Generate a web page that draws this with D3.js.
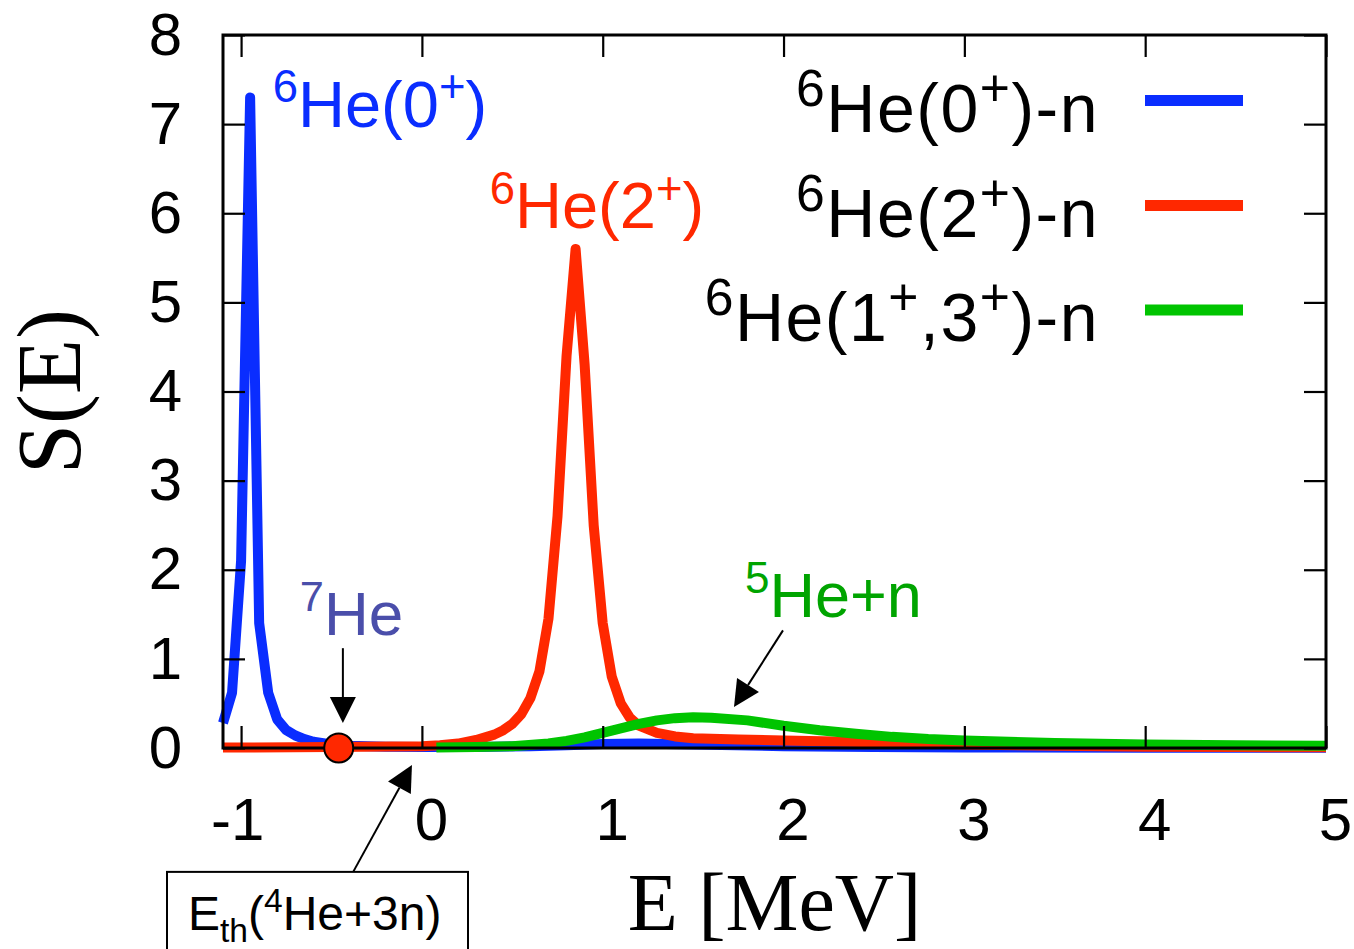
<!DOCTYPE html>
<html>
<head>
<meta charset="utf-8">
<script src="https://cdn.jsdelivr.net/npm/d3@7"></script>
<style>
  html, body { margin: 0; padding: 0; background: #fff; }
  svg { display: block; }
  text { font-family: "Liberation Sans", Arial, Helvetica, sans-serif; }
  .serif { font-family: "Liberation Serif", "Times New Roman", serif; }
</style>
</head>
<body>
<svg id="chart" width="1354" height="949"></svg>
<script>
// Strength function S(E) of 7He decomposed into 6He-core + n channels
const energies0 = [-1.1, -1.05, -1.0, -0.95, -0.9, -0.85, -0.8, -0.75, -0.7, -0.65, -0.6, -0.5, -0.4, -0.2, 0.0, 0.3, 0.6, 0.8, 1.0, 1.2, 1.5, 2.0, 2.5, 3.0, 4.0, 5.0];
const strength0 = [0.28, 0.62, 2.1, 7.3, 1.4, 0.62, 0.32, 0.2, 0.14, 0.1, 0.07, 0.04, 0.025, 0.015, 0.01, 0.01, 0.02, 0.03, 0.045, 0.05, 0.04, 0.02, 0.01, 0.005, 0.003, 0.002];

const energies2 = [-1.1, -0.5, 0.0, 0.1, 0.2, 0.3, 0.4, 0.45, 0.5, 0.55, 0.6, 0.65, 0.7, 0.75, 0.8, 0.85, 0.9, 0.95, 1.0, 1.05, 1.1, 1.15, 1.2, 1.3, 1.4, 1.5, 1.75, 2.0, 2.5, 3.0, 3.5, 4.0, 4.5, 5.0];
const strength2 = [0.005, 0.01, 0.02, 0.03, 0.05, 0.09, 0.15, 0.2, 0.27, 0.38, 0.56, 0.86, 1.45, 2.6, 4.4, 5.6, 4.3, 2.5, 1.4, 0.8, 0.5, 0.34, 0.25, 0.17, 0.13, 0.11, 0.095, 0.085, 0.065, 0.04, 0.025, 0.015, 0.01, 0.008];

const energies13 = [0.08, 0.3, 0.5, 0.7, 0.8, 0.9, 1.0, 1.1, 1.2, 1.3, 1.4, 1.5, 1.6, 1.8, 2.0, 2.2, 2.4, 2.6, 2.8, 3.0, 3.5, 4.0, 4.5, 5.0];
const strength13 = [0.005, 0.01, 0.02, 0.05, 0.08, 0.12, 0.17, 0.22, 0.27, 0.31, 0.335, 0.345, 0.34, 0.31, 0.25, 0.2, 0.16, 0.125, 0.1, 0.085, 0.055, 0.04, 0.03, 0.025];

const seriesNames = ["0+", "2+", "1+,3+"];
const seriesColors = ["#0a2dff", "#ff2800", "#00c400"];

const xTicks = [-1, 0, 1, 2, 3, 4, 5];
const yTicks = [0, 1, 2, 3, 4, 5, 6, 7, 8];

// 7He ground state energy relative to the 6He+n threshold
const groundStateE = -0.46;

const svg = d3.select("#chart");
const plotLeft = 223, plotRight = 1326, plotTop = 35, plotBottom = 748;

const x = d3.scaleLinear().domain([-1.1, 5]).range([plotLeft, plotRight]);
const y = d3.scaleLinear().domain([0, 8]).range([plotBottom, plotTop]);

const series = [
  energies0.map((e, i) => [e, strength0[i]]),
  energies2.map((e, i) => [e, strength2[i]]),
  energies13.map((e, i) => [e, strength13[i]])
];

const line = d3.line().x(d => x(d[0])).y(d => y(d[1]));

// curves
svg.append("g").selectAll("path")
  .data(series)
  .join("path")
  .attr("d", line)
  .attr("fill", "none")
  .attr("stroke", (d, i) => seriesColors[i])
  .attr("stroke-width", 10)
  .attr("stroke-linejoin", "round");

// axes (inward ticks, mirrored on top and right)
const tickLen = 22;
const fmt = d => d < 0 ? "-" + Math.abs(d) : String(d);

const gx = svg.append("g").attr("transform", `translate(0,${plotBottom})`)
  .call(d3.axisBottom(x).tickValues(xTicks).tickSize(-tickLen).tickPadding(49).tickFormat(fmt));
const gy = svg.append("g").attr("transform", `translate(${plotLeft},0)`)
  .call(d3.axisLeft(y).tickValues(yTicks).tickSize(-tickLen).tickPadding(41).tickFormat(fmt));
const gxt = svg.append("g").attr("transform", `translate(0,${plotTop})`)
  .call(d3.axisTop(x).tickValues(xTicks).tickSize(-tickLen).tickFormat(""));
const gyr = svg.append("g").attr("transform", `translate(${plotRight},0)`)
  .call(d3.axisRight(y).tickValues(yTicks).tickSize(-tickLen).tickFormat(""));

[gx, gy, gxt, gyr].forEach(g => {
  g.select(".domain").remove();
  g.selectAll(".tick line").attr("stroke", "#000").attr("stroke-width", 2.2);
  g.selectAll(".tick text").attr("font-size", 60).attr("fill", "#000")
    .attr("font-family", "'Liberation Sans', Arial, sans-serif");
});
gx.selectAll(".tick text").attr("dx", d => d < 0 ? -4 : 9);

svg.append("rect")
  .attr("x", plotLeft).attr("y", plotTop)
  .attr("width", plotRight - plotLeft).attr("height", plotBottom - plotTop)
  .attr("fill", "none").attr("stroke", "#000").attr("stroke-width", 3);

// axis titles
svg.append("text").attr("class", "serif")
  .attr("transform", `translate(80,${(plotTop + plotBottom) / 2}) rotate(-90)`)
  .attr("text-anchor", "middle")
  .attr("font-size", 90)
  .text("S(E)");

svg.append("text").attr("class", "serif")
  .attr("x", (plotLeft + plotRight) / 2).attr("y", 930)
  .attr("text-anchor", "middle")
  .attr("font-size", 82)
  .text("E [MeV]");

// rich text helper: parts are [text, kind] with kind "", "sup" or "sub"
function richText(sel, parts, size, supScale) {
  const sc = supScale || 0.7;
  parts.forEach((p, i) => {
    const prev = i > 0 ? parts[i - 1][1] : "";
    const t = sel.append("tspan").text(p[0]);
    let dy = 0;
    if (prev === "sup") dy += 0.38 * size;
    if (prev === "sub") dy -= 0.25 * size;
    if (p[1] === "sup") { dy -= 0.38 * size; t.attr("font-size", size * sc); }
    if (p[1] === "sub") { dy += 0.25 * size; t.attr("font-size", size * sc); }
    if (dy !== 0) t.attr("dy", dy);
  });
  return sel;
}

// legend
const legendY = [100.5, 205.5, 310];
const legendParts = [
  [["6", "sup"], ["He(0", ""], ["+", "sup"], [")-n", ""]],
  [["6", "sup"], ["He(2", ""], ["+", "sup"], [")-n", ""]],
  [["6", "sup"], ["He(1", ""], ["+", "sup"], [",3", ""], ["+", "sup"], [")-n", ""]]
];
const legend = svg.append("g");
seriesNames.forEach((name, i) => {
  legend.append("line")
    .attr("x1", 1145).attr("x2", 1243)
    .attr("y1", legendY[i]).attr("y2", legendY[i])
    .attr("stroke", seriesColors[i]).attr("stroke-width", 11);
  const t = legend.append("text")
    .attr("x", 1099).attr("y", legendY[i] + 31)
    .attr("text-anchor", "end").attr("font-size", 68).attr("fill", "#000")
    .attr("letter-spacing", 1.5);
  richText(t, legendParts[i], 68, 0.76);
});

// peak labels
function label(e, s, parts, color, size) {
  const t = svg.append("text").attr("x", x(e)).attr("y", y(s))
    .attr("font-size", size).attr("fill", color);
  richText(t, parts, size);
}
label(-0.825, 6.97, [["6", "sup"], ["He(0", ""], ["+", "sup"], [")", ""]], "#0a2dff", 65);
label(0.375, 5.83, [["6", "sup"], ["He(2", ""], ["+", "sup"], [")", ""]], "#ff2800", 65);
label(-0.675, 1.27, [["7", "sup"], ["He", ""]], "#4a4eaa", 62);
label(1.787, 1.47, [["5", "sup"], ["He+n", ""]], "#00a400", 63);

// arrows
function arrow(x1, y1, x2, y2) {
  const ang = Math.atan2(y2 - y1, x2 - x1);
  const len = 26, half = 13;
  const bx = x2 - len * Math.cos(ang), by = y2 - len * Math.sin(ang);
  svg.append("line").attr("x1", x1).attr("y1", y1).attr("x2", bx).attr("y2", by)
    .attr("stroke", "#000").attr("stroke-width", 2);
  const px = -Math.sin(ang) * half, py = Math.cos(ang) * half;
  svg.append("path")
    .attr("d", `M${x2},${y2}L${bx + px},${by + py}L${bx - px},${by - py}Z`)
    .attr("fill", "#000");
}
arrow(x(-0.437), y(1.12), x(-0.437), y(0.28));
arrow(x(1.997), y(1.32), x(1.726), y(0.46));
arrow(x(-0.38), y(-1.39), x(-0.055), y(-0.19));

// threshold box
svg.append("rect")
  .attr("x", 167).attr("y", y(-1.39))
  .attr("width", 301).attr("height", 100)
  .attr("fill", "#fff").attr("stroke", "#000").attr("stroke-width", 2);
const eth = svg.append("text").attr("x", 188).attr("y", 930)
  .attr("font-size", 48).attr("fill", "#000");
richText(eth, [["E", ""], ["th", "sub"], ["(", ""], ["4", "sup"], ["He+3n)", ""]], 48);

// 7He ground state marker
svg.append("circle")
  .attr("cx", x(groundStateE)).attr("cy", y(0)).attr("r", 14.5)
  .attr("fill", "#ff2800").attr("stroke", "#000").attr("stroke-width", 2);
</script>
</body>
</html>
